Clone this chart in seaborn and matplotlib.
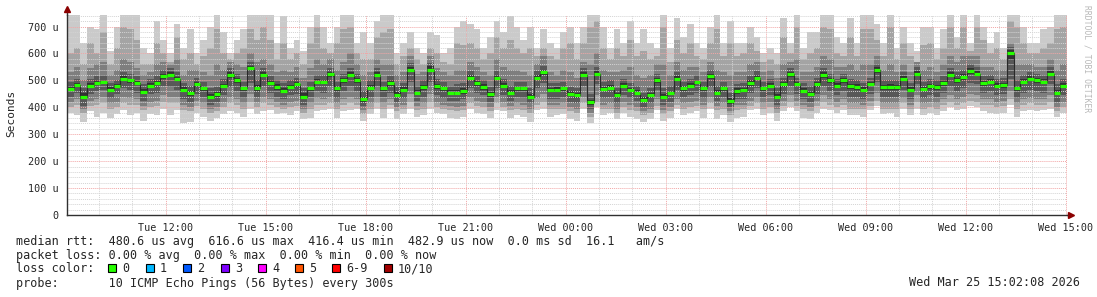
import numpy as np
import pandas as pd
import matplotlib
matplotlib.use("Agg")
import matplotlib.pyplot as plt
import matplotlib.dates as mdates
from matplotlib.patches import Rectangle
from matplotlib.ticker import MultipleLocator, FuncFormatter
import seaborn as sns

# ---------------- data (microseconds, one value per 12-minute step) ----------------
median_us = [468,483,440,480,490,495,465,478,505,500,490,458,480,490,516,520,505,465,452,486,470,440,448,478,520,500,470,545,470,520,
             491,475,462,475,485,440,470,495,495,522,470,500,520,500,430,472,520,470,490,447,465,540,455,475,540,478,470,455,455,460,
             510,490,475,448,510,480,455,470,470,440,510,530,465,465,470,450,445,520,418,525,468,472,445,480,465,455,428,445,500,440,
             453,505,470,480,495,470,515,453,470,423,460,465,490,510,470,480,440,485,522,485,462,450,485,520,500,480,500,478,475,465,
             485,538,475,475,475,505,465,525,468,478,475,490,520,500,512,535,525,490,495,480,482,600,470,495,505,500,495,525,455,480]

ping10 = [760,760,640,700,690,760,610,700,760,760,760,620,600,720,650,600,710,620,690,600,650,700,760,680,600,650,690,760,760,760,
          760,640,740,620,650,610,700,760,700,640,700,760,760,640,680,640,720,760,760,600,640,680,620,600,680,670,600,620,700,720,
          710,690,620,660,720,680,740,700,650,700,620,690,640,620,680,700,640,700,760,760,700,620,690,640,720,640,690,640,620,760,
          620,730,660,710,640,620,700,760,640,720,640,640,700,660,600,620,600,730,640,760,620,680,680,760,760,660,640,730,640,760,
          760,710,640,760,620,700,640,610,700,700,620,690,760,660,760,640,760,700,640,680,620,760,760,700,640,640,690,700,760,760]
ping9 = [600,620,560,640,600,680,560,620,700,690,650,560,560,640,600,570,660,580,600,560,590,620,690,600,580,600,620,690,650,700,
         650,580,640,580,600,560,640,700,620,600,640,690,700,600,580,580,660,680,690,560,590,620,580,560,620,600,570,560,640,630,
         640,620,580,600,660,620,650,620,600,620,590,620,590,580,620,640,580,640,700,720,620,580,620,590,650,590,610,580,590,700,
         570,650,600,640,590,580,640,690,590,640,590,600,640,610,570,580,560,660,600,700,580,600,620,700,690,600,590,660,590,690,
         690,650,590,700,580,640,590,570,630,640,580,620,700,620,700,610,700,650,600,620,580,720,700,640,600,600,620,640,690,700]
ping8 = [530,550,500,545,560,570,520,540,580,570,545,520,530,560,570,560,580,520,540,540,530,520,560,540,570,560,550,600,570,580,
         560,530,540,530,550,510,545,580,560,580,540,570,600,560,520,530,580,560,560,520,530,590,525,530,590,545,530,520,540,540,
         570,550,530,520,580,550,540,540,530,520,560,590,530,520,540,530,510,570,560,600,540,530,530,540,550,520,510,520,560,560,
         520,570,540,550,550,530,570,540,530,520,530,530,560,570,530,540,510,560,570,580,530,530,550,590,580,550,550,560,540,560,
         560,590,540,560,530,560,530,570,540,550,530,560,590,570,590,590,590,550,550,540,540,640,560,560,560,550,550,580,540,560]
ping7 = [495,505,470,505,515,520,490,500,530,525,515,485,505,515,540,545,530,490,480,510,495,470,475,505,545,525,495,570,500,545,
         515,500,490,500,510,470,495,520,520,545,495,525,545,525,460,500,545,495,515,475,490,565,480,500,565,505,495,480,485,490,
         535,515,500,475,535,505,480,495,495,470,535,555,490,490,495,475,470,545,450,550,495,500,470,505,490,480,455,470,525,470,
         480,530,495,505,520,495,540,480,495,455,485,490,515,535,495,505,470,510,545,510,490,478,510,545,525,505,525,505,500,490,
         510,560,500,500,500,530,490,550,495,505,500,515,545,530,540,560,550,515,520,505,508,625,500,520,530,525,520,550,485,505]
ping6 = [478,490,452,489,500,502,475,485,515,507,497,468,490,497,525,530,512,474,462,495,480,451,458,488,530,509,477,555,482,530,
         500,485,470,484,494,452,478,505,503,532,480,509,530,508,440,482,530,478,500,456,475,550,465,483,552,487,480,463,466,470,
         520,498,485,458,520,490,463,480,478,450,520,540,473,476,478,460,455,530,428,535,477,482,455,490,473,465,438,455,510,450,
         462,515,478,490,503,480,525,463,478,433,470,473,500,520,478,490,450,495,532,494,472,460,494,530,510,489,510,486,485,475,
         495,548,484,485,483,515,474,535,477,488,484,500,530,510,522,545,535,498,505,489,492,612,480,505,515,510,504,535,466,490]
ping5 = [460,475,430,472,482,486,456,470,496,491,482,450,471,482,507,511,497,456,443,477,462,432,440,470,510,491,462,535,461,511,
         482,466,453,467,476,430,461,486,487,513,461,491,511,491,421,463,511,461,481,438,456,530,446,466,530,469,461,446,447,451,
         500,481,466,439,501,471,446,461,462,431,500,520,456,457,461,441,436,511,409,515,459,463,436,471,456,446,419,436,491,431,
         444,496,461,471,486,461,505,444,461,414,451,456,481,500,461,471,431,476,512,476,453,441,476,510,491,471,491,469,466,456,
         476,528,466,466,466,496,456,515,459,469,466,481,511,491,503,525,515,481,486,471,473,575,461,486,496,491,486,515,446,471]
ping4 = [440,455,405,450,460,465,435,450,470,465,455,425,450,455,480,475,465,430,420,450,440,410,420,445,475,460,435,490,440,480,
         455,440,430,445,450,410,440,460,455,480,435,460,480,460,405,440,480,440,455,420,435,495,425,440,495,445,435,425,425,430,
         470,455,445,420,470,445,425,440,435,415,470,490,430,430,440,420,415,480,395,485,435,440,415,445,435,425,400,415,465,410,
         420,465,440,445,455,435,475,425,440,400,430,430,455,470,440,445,410,450,480,450,430,420,450,480,460,445,460,440,440,430,
         450,495,440,440,440,465,430,485,435,445,440,455,480,460,470,490,485,455,460,445,450,505,435,455,465,460,455,485,420,445]
ping3 = [420,430,395,425,430,440,415,420,440,435,430,405,420,425,445,440,440,410,400,425,415,395,400,420,440,430,415,450,420,440,
         430,420,410,420,425,395,415,435,430,440,415,430,440,430,390,415,440,415,430,400,410,450,405,415,450,420,410,405,400,405,
         440,425,420,400,440,420,405,415,410,395,435,450,410,410,415,400,395,440,380,445,410,415,395,420,410,400,385,395,430,390,
         400,430,415,420,425,410,440,405,415,385,410,410,425,440,415,420,395,425,445,425,410,400,425,445,430,420,430,415,415,410,
         425,455,415,415,415,435,410,445,415,420,415,430,445,430,440,450,445,430,430,420,425,460,415,430,435,430,430,445,400,420]
ping2 = [400,410,380,405,410,415,395,400,415,410,410,390,400,405,420,415,415,390,385,405,395,380,385,400,415,410,395,420,400,415,
         410,400,395,400,405,380,395,410,410,415,395,410,415,410,375,395,415,395,410,385,395,420,390,395,420,400,395,390,385,390,
         415,405,400,385,415,400,390,395,390,380,410,420,395,395,395,385,380,415,365,420,395,395,380,400,390,385,370,380,405,375,
         385,410,395,400,405,395,415,390,395,370,390,395,405,415,395,400,380,405,420,405,395,385,405,420,410,400,410,395,395,395,
         405,425,395,395,395,415,395,420,395,400,395,410,420,410,415,425,420,410,410,400,405,430,395,410,415,410,410,420,385,400]
ping1 = [380,370,345,385,365,380,360,375,390,370,380,350,375,370,395,370,390,340,345,380,365,350,360,375,385,380,365,395,375,385,
         390,375,380,370,385,355,360,385,390,395,360,385,390,395,350,375,395,360,395,355,375,395,365,370,395,380,375,360,355,365,
         395,380,375,360,390,385,360,370,365,345,390,395,365,370,375,355,350,395,340,400,370,380,355,380,365,355,345,355,390,350,
         360,395,370,380,385,360,395,355,370,345,360,365,390,395,370,380,350,385,400,385,360,355,380,395,390,380,390,370,370,365,
         390,405,375,380,365,395,370,395,370,380,370,385,400,390,395,405,400,385,380,375,380,410,365,385,390,385,390,395,365,380]

loss_labels = ["0", "1", "2", "3", "4", "5", "6-9", "10/10"]
loss_colors = ["#26ff00", "#00b8ff", "#0059ff", "#7e00ff", "#ff00ff", "#ff5500", "#ff0000", "#a10000"]
smoke_shades = ["#cacaca", "#a4a4a4", "#7e7e7e", "#585858", "#323232"]

stat_lines = [
    "median rtt:  480.6 us avg  616.6 us max  416.4 us min  482.9 us now  0.0 ms sd  16.1   am/s",
    "packet loss: 0.00 % avg  0.00 % max  0.00 % min  0.00 % now",
    "loss color:",
    "probe:       10 ICMP Echo Pings (56 Bytes) every 300s",
]
stamp = "Wed Mar 25 15:02:08 2026"
start_time = "2026-03-24 09:02:08"
step_seconds = 720

# ---------------- figure ----------------
sns.set_style("white")
plt.rcParams['font.family'] = ['DejaVu Sans Mono', 'DejaVu Sans']

W, H = 1097, 297
fig = plt.figure(figsize=(W / 100, H / 100), dpi=100)
fig.patch.set_facecolor("white")
ax = fig.add_axes([67 / W, (H - 215) / H, 1000 / W, 200 / H])

n = len(median_us)
edges = pd.date_range(pd.Timestamp(start_time), periods=n + 1, freq=f"{step_seconds}s")
xe = mdates.date2num(edges.to_pydatetime())

pings = [np.array(p, dtype=float) for p in
         (ping1, ping2, ping3, ping4, ping5, ping6, ping7, ping8, ping9, ping10)]
for i, shade in enumerate(smoke_shades):
    lo = pings[i]
    hi = pings[9 - i]
    ax.stairs(hi, xe, baseline=lo, fill=True, color=shade, lw=0, zorder=1 + i * 0.01)

df = pd.DataFrame({"t": xe[:-1], "rtt": np.array(median_us, dtype=float)})
sns.lineplot(data=df, x="t", y="rtt", drawstyle="steps-post", color="#2a2a2a",
             lw=0.8, ax=ax, zorder=3, legend=False, estimator=None)
ax.hlines(df["rtt"], xe[:-1], xe[1:], colors=loss_colors[0], lw=2.3, zorder=4)

ax.set_xlim(xe[0], xe[-1])
ax.set_ylim(0, 743)

# grid (drawn over the smoke, like rrdtool)
ax.set_axisbelow(False)
ax.yaxis.set_major_locator(MultipleLocator(100))
ax.yaxis.set_minor_locator(MultipleLocator(20))
ax.xaxis.set_major_locator(mdates.HourLocator(byhour=range(0, 24, 3)))
ax.xaxis.set_minor_locator(mdates.HourLocator())
ax.xaxis.set_major_formatter(mdates.DateFormatter("%a %H:%M"))
ax.yaxis.set_major_formatter(FuncFormatter(lambda v, p: "0" if v == 0 else f"{int(round(v))} u"))
ax.grid(which="minor", color="#d4d4d4", ls=(0, (1, 1)), lw=0.7)
ax.grid(which="major", color="#f2a6a6", ls=(0, (1, 1)), lw=0.7)

for s in ("top", "right"):
    ax.spines[s].set_visible(False)
for s in ("left", "bottom"):
    ax.spines[s].set_color("#303030")
    ax.spines[s].set_linewidth(1.0)
    ax.spines[s].set_zorder(5)

ax.tick_params(axis="both", which="major", direction="inout", length=4, width=0.8,
               color="#404040", labelsize=7.3, pad=4)
ax.tick_params(axis="both", which="minor", direction="inout", length=3, width=0.6, color="#606060")
ax.tick_params(axis="x", which="minor", length=2)

ax.set_xlabel("")
ax.set_ylabel("Seconds", fontsize=8)
ax.yaxis.set_label_coords(-0.051, 0.51)

# axis arrows
ax.plot([0, 0], [1, 1.025], transform=ax.transAxes, clip_on=False, color="#303030", lw=1)
ax.plot([0], [1.03], marker="^", ms=4, color="#8b0000", transform=ax.transAxes, clip_on=False)
ax.plot([1, 1.003], [0, 0], transform=ax.transAxes, clip_on=False, color="#303030", lw=1)
ax.plot([1.004], [0], marker=">", ms=4, color="#8b0000", transform=ax.transAxes, clip_on=False)

# side watermark
fig.text(1087 / W, 1 - 5 / H, "RRDTOOL / TOBI OETIKER", rotation=270, va="top", ha="center",
         fontsize=5.8, color="#b8b8b8")

# legend / stats
line_y = [241, 255, 269, 283]
for txt, yy in zip(stat_lines, line_y):
    fig.text(16 / W, 1 - yy / H, txt, va="center", ha="left", fontsize=8.5)

box_x = [108, 146, 183, 221, 258, 295, 332, 384]
for bx, lab, col in zip(box_x, loss_labels, loss_colors):
    fig.add_artist(Rectangle((bx / W, 1 - 272 / H), 8 / W, 8 / H, transform=fig.transFigure,
                             facecolor=col, edgecolor="black", lw=0.8))
    fig.text((bx + 14) / W, 1 - 269 / H, lab, va="center", ha="left", fontsize=8.5)

fig.text(1080 / W, 1 - 283 / H, stamp, va="center", ha="right", fontsize=8.5)

fig.savefig("out.png", dpi=100, facecolor="white")
